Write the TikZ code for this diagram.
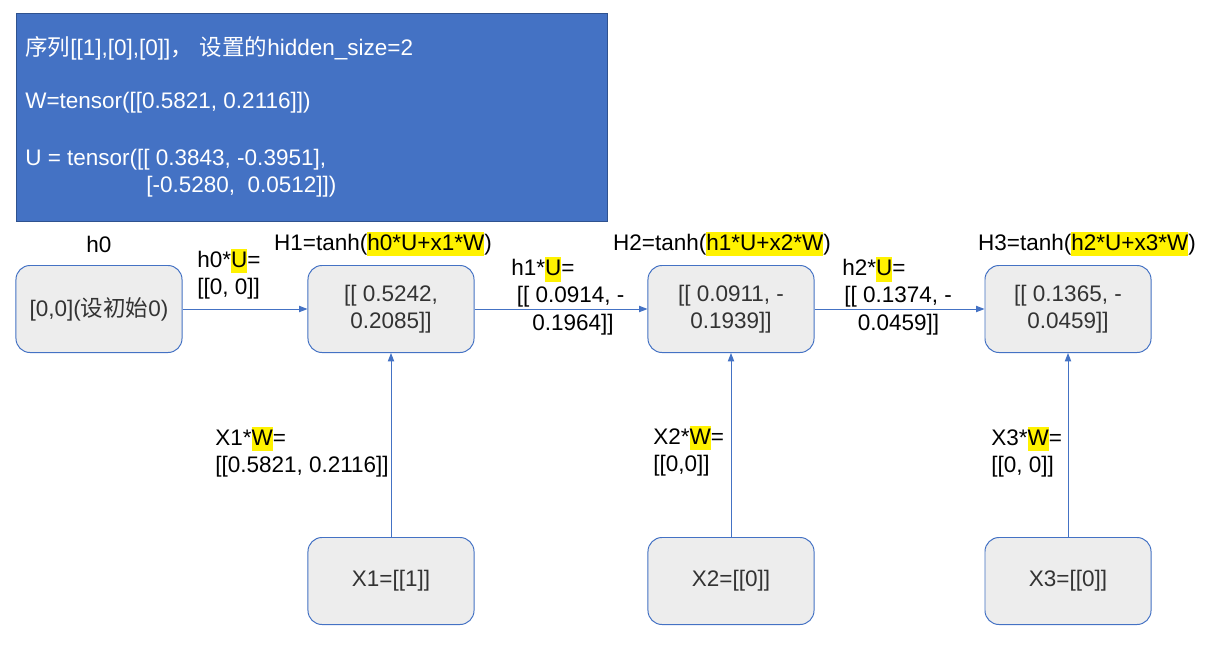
\documentclass[tikz,border=0pt]{standalone}
\usepackage{fontspec}
\setmainfont{Liberation Sans}
\newfontfamily\cjk{Noto Sans CJK SC}
\usepackage{xcolor}
\usetikzlibrary{positioning, arrows.meta}
\definecolor{pptblue}{HTML}{4472C4}
\definecolor{pptedge}{HTML}{2F528F}
\definecolor{cellgray}{HTML}{EDEDED}
\newcommand{\hl}[1]{{\setlength{\fboxsep}{0pt}\colorbox{yellow}{\rule[-0.28em]{0pt}{1.1em}#1}}}

\begin{document}
\begin{tikzpicture}[
  x=0.025cm, y=-0.025cm,
  every node/.style={font=\fontsize{16}{19.5}\selectfont},
  infobox/.style={draw=pptedge, fill=pptblue, line width=0.7pt,
    minimum width=14.775cm, minimum height=5.2cm, inner sep=0pt,
    anchor=north west},
  infotext/.style={text=white, anchor=west, inner sep=0pt},
  cell/.style={draw=pptblue, fill=cellgray, rounded corners=10pt,
    minimum width=4.15cm, minimum height=2.175cm, align=center,
    text=black!80, line width=0.7pt, inner sep=2pt},
  steplabel/.style={align=center, inner sep=0pt},
  prodlabel/.style={align=left, anchor=west, inner sep=0pt},
  flow/.style={-{Triangle[length=6pt, width=4.5pt]}, draw=pptblue,
    line width=0.7pt},
]
\useasboundingbox (0,0) rectangle (1209,665);

% ── Parameter box ───────────────────────────────────────
\node[infobox] (info) at (16,13) {};
\node[infotext] (seq) at (25,48)
  {{\cjk 序列}[[1],[0],[0]]{\cjk ，\hspace{5pt}设置的}hidden\_size=2};
\node[infotext] (wval) at (25,103) {W=tensor([[0.5821, 0.2116]])};
\node[infotext] (uval1) at (25,160) {U = tensor([[ 0.3843, -0.3951],};
\node[infotext] (uval2) at (146,187) {[-0.5280,\ \ 0.0512]])};

% ── Hidden states ───────────────────────────────────────
\node[cell] (h0) at (99,309) {[0,0]({\cjk 设初始}0)};
\node[cell] (h1) at (391,309) {[[ 0.5242,\\0.2085]]};
\node[cell] (h2) at (731,309) {[[ 0.0911, -\\0.1939]]};
\node[cell] (h3) at (1068,309) {[[ 0.1365, -\\0.0459]]};

\node[steplabel] (h0t) at (99,244) {h0};
\node[steplabel] (h1t) at (383,244) {H1=tanh(\hl{h0*U+x1*W})};
\node[steplabel] (h2t) at (722,244) {H2=tanh(\hl{h1*U+x2*W})};
\node[steplabel] (h3t) at (1087,244) {H3=tanh(\hl{h2*U+x3*W})};

% ── Inputs ──────────────────────────────────────────────
\node[cell] (x1) at (391,581) {X1=[[1]]};
\node[cell] (x2) at (731,581) {X2=[[0]]};
\node[cell] (x3) at (1068,581) {X3=[[0]]};

% ── Connections ─────────────────────────────────────────
\draw[flow] (h0) -- (h1);
\draw[flow] (h1) -- (h2);
\draw[flow] (h2) -- (h3);
\draw[flow] (x1) -- (h1);
\draw[flow] (x2) -- (h2);
\draw[flow] (x3) -- (h3);

% products on the arrows
\node[prodlabel] (hu0) at (197,274) {h0*\hl{U}=\\{}[[0, 0]]};
\node[prodlabel] (hu1) at (511,296)
  {h1*\hl{U}=\\\hspace*{4pt}[[ 0.0914, -\\\hspace*{15pt}0.1964]]};
\node[prodlabel] (hu2) at (842,296)
  {h2*\hl{U}=\\\hspace*{1.5pt}[[ 0.1374, -\\\hspace*{11pt}0.0459]]};
\node[prodlabel] (xw1) at (215,452) {X1*\hl{W}=\\{}[[0.5821, 0.2116]]};
\node[prodlabel] (xw2) at (653,451) {X2*\hl{W}=\\{}[[0,0]]};
\node[prodlabel] (xw3) at (991,452) {X3*\hl{W}=\\{}[[0, 0]]};

\end{tikzpicture}
\end{document}
